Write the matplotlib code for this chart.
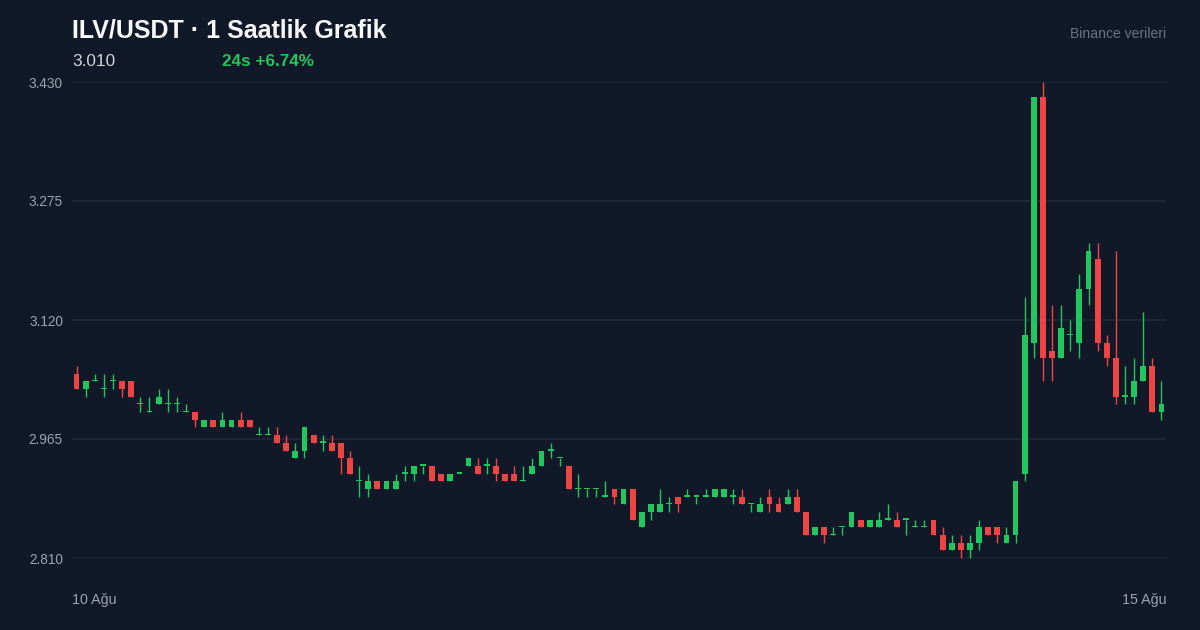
import numpy as np
import matplotlib
matplotlib.use('Agg')
import matplotlib.pyplot as plt

plt.rcParams['font.family'] = ['Liberation Sans', 'DejaVu Sans']

# hourly candles, 10 Ağu -> 15 Ağu
opens = [3.05, 3.03, 3.04, 3.03, 3.04, 3.04, 3.04, 3.01, 3.00, 3.01,
         3.01, 3.01, 3.00, 3.00, 2.98, 2.99, 2.98, 2.98, 2.99, 2.99,
         2.97, 2.97, 2.97, 2.96, 2.94, 2.95, 2.97, 2.96, 2.96, 2.96,
         2.94, 2.91, 2.90, 2.91, 2.90, 2.90, 2.92, 2.92, 2.93, 2.93,
         2.92, 2.91, 2.92, 2.93, 2.93, 2.93, 2.93, 2.92, 2.92, 2.91,
         2.92, 2.93, 2.95, 2.94, 2.93, 2.90, 2.90, 2.90, 2.89, 2.90,
         2.88, 2.90, 2.85, 2.87, 2.87, 2.88, 2.89, 2.89, 2.89, 2.89,
         2.89, 2.89, 2.89, 2.89, 2.88, 2.87, 2.89, 2.88, 2.88, 2.89,
         2.87, 2.84, 2.85, 2.84, 2.85, 2.85, 2.86, 2.85, 2.85, 2.86,
         2.86, 2.86, 2.85, 2.85, 2.86, 2.84, 2.82, 2.83, 2.82, 2.83,
         2.85, 2.85, 2.83, 2.84, 2.92, 3.09, 3.41, 3.08, 3.07, 3.10,
         3.09, 3.16, 3.20, 3.09, 3.07, 3.02, 3.02, 3.04, 3.06, 3.00]
highs = [3.06, 3.04, 3.05, 3.05, 3.05, 3.04, 3.04, 3.02, 3.02, 3.03,
         3.03, 3.02, 3.01, 3.00, 2.99, 2.99, 3.00, 2.99, 3.00, 2.99,
         2.98, 2.98, 2.98, 2.97, 2.96, 2.98, 2.97, 2.97, 2.97, 2.96,
         2.95, 2.93, 2.92, 2.91, 2.91, 2.92, 2.93, 2.93, 2.93, 2.93,
         2.92, 2.92, 2.92, 2.94, 2.94, 2.94, 2.94, 2.92, 2.93, 2.93,
         2.94, 2.95, 2.96, 2.94, 2.93, 2.92, 2.90, 2.90, 2.91, 2.90,
         2.90, 2.90, 2.87, 2.88, 2.90, 2.89, 2.89, 2.90, 2.89, 2.90,
         2.90, 2.90, 2.90, 2.90, 2.88, 2.89, 2.90, 2.89, 2.90, 2.90,
         2.87, 2.85, 2.85, 2.85, 2.85, 2.87, 2.86, 2.86, 2.87, 2.88,
         2.87, 2.86, 2.86, 2.86, 2.86, 2.85, 2.84, 2.84, 2.84, 2.86,
         2.85, 2.85, 2.85, 2.91, 3.15, 3.41, 3.43, 3.14, 3.14, 3.12,
         3.18, 3.22, 3.22, 3.10, 3.21, 3.06, 3.07, 3.13, 3.07, 3.04]
lows = [3.03, 3.02, 3.04, 3.02, 3.03, 3.02, 3.02, 3.00, 3.00, 3.01,
        3.00, 3.00, 3.00, 2.98, 2.98, 2.98, 2.98, 2.98, 2.98, 2.98,
        2.97, 2.97, 2.96, 2.95, 2.94, 2.94, 2.96, 2.95, 2.95, 2.92,
        2.92, 2.89, 2.89, 2.90, 2.90, 2.90, 2.91, 2.91, 2.92, 2.91,
        2.91, 2.91, 2.92, 2.93, 2.92, 2.92, 2.91, 2.91, 2.91, 2.91,
        2.92, 2.93, 2.94, 2.93, 2.90, 2.89, 2.89, 2.89, 2.89, 2.88,
        2.88, 2.86, 2.85, 2.86, 2.87, 2.87, 2.87, 2.89, 2.88, 2.89,
        2.89, 2.89, 2.88, 2.88, 2.87, 2.87, 2.87, 2.87, 2.88, 2.87,
        2.84, 2.84, 2.83, 2.84, 2.84, 2.85, 2.85, 2.85, 2.85, 2.86,
        2.85, 2.84, 2.85, 2.85, 2.84, 2.82, 2.82, 2.81, 2.81, 2.82,
        2.84, 2.83, 2.83, 2.83, 2.91, 3.07, 3.04, 3.04, 3.07, 3.08,
        3.07, 3.14, 3.08, 3.06, 3.01, 3.01, 3.01, 3.04, 3.00, 2.99]
closes = [3.03, 3.04, 3.04, 3.03, 3.04, 3.03, 3.02, 3.01, 3.00, 3.02,
          3.01, 3.01, 3.00, 2.99, 2.99, 2.98, 2.99, 2.99, 2.98, 2.98,
          2.97, 2.97, 2.96, 2.95, 2.95, 2.98, 2.96, 2.96, 2.95, 2.94,
          2.92, 2.91, 2.91, 2.90, 2.91, 2.91, 2.92, 2.93, 2.93, 2.91,
          2.91, 2.92, 2.92, 2.94, 2.92, 2.93, 2.92, 2.91, 2.91, 2.91,
          2.93, 2.95, 2.95, 2.94, 2.90, 2.90, 2.90, 2.90, 2.89, 2.89,
          2.90, 2.86, 2.87, 2.88, 2.88, 2.88, 2.88, 2.89, 2.89, 2.89,
          2.90, 2.90, 2.89, 2.88, 2.88, 2.88, 2.88, 2.87, 2.89, 2.87,
          2.84, 2.85, 2.84, 2.84, 2.85, 2.87, 2.85, 2.86, 2.86, 2.86,
          2.85, 2.86, 2.85, 2.85, 2.84, 2.82, 2.83, 2.82, 2.83, 2.85,
          2.84, 2.84, 2.84, 2.91, 3.10, 3.41, 3.07, 3.07, 3.11, 3.10,
          3.16, 3.21, 3.09, 3.07, 3.02, 3.02, 3.04, 3.06, 3.00, 3.01]

y_ticks = [2.810, 2.965, 3.120, 3.275, 3.430]
y_labels = ['2.810', '2.965', '3.120', '3.275', '3.430']

BG = '#111827'
GREEN = '#22c55e'
RED = '#ef4444'

o = np.array(opens)
h = np.array(highs)
l = np.array(lows)
c = np.array(closes)
x = np.arange(len(o))
up = c >= o
colors = np.where(up, GREEN, RED)

fig = plt.figure(figsize=(12, 6.3), dpi=100, facecolor=BG)
ax = fig.add_axes([72 / 1200, 72 / 630, 1094 / 1200, 476 / 630])
ax.set_facecolor(BG)

ax.vlines(x, l, h, colors=colors, linewidth=1, zorder=2, clip_on=False)
body_bot = np.minimum(o, c)
body_h = np.maximum(np.abs(c - o), 0.0018)
ax.bar(x, body_h, bottom=body_bot, width=0.64, color=colors, zorder=3, clip_on=False)

ax.set_xlim(-0.5, len(o) - 0.5)
ax.set_ylim(2.81, 3.43)
ax.set_yticks(y_ticks)
ax.set_yticklabels(y_labels)
ax.set_xticks([])
ax.tick_params(axis='y', length=0, pad=6.5, labelsize=9.8, labelcolor='#9ca3af')
ax.grid(axis='y', color='#1f2937', linewidth=1.2, zorder=0)
for s in ax.spines.values():
    s.set_visible(False)

def px(xp, yp):
    return xp / 1200, 1 - yp / 630

fig.text(*px(72, 38), 'ILV/USDT · 1 Saatlik Grafik', fontsize=18, fontweight='bold',
         color='#f9fafb', va='baseline', ha='left')
fig.text(*px(72, 66), '3.010', fontsize=12.4, color='#d1d5db', va='baseline', ha='left')
fig.text(*px(222, 66), '24s +6.74%', fontsize=12.3, fontweight='bold', color=GREEN,
         va='baseline', ha='left')
fig.text(*px(1166, 38), 'Binance verileri', fontsize=10.1, color='#6b7280',
         va='baseline', ha='right')
fig.text(*px(72, 604), '10 Ağu', fontsize=10.3, color='#9ca3af', va='baseline', ha='left')
fig.text(*px(1166, 604), '15 Ağu', fontsize=10.3, color='#9ca3af', va='baseline', ha='right')

fig.savefig('out.png', dpi=100, facecolor=BG)
